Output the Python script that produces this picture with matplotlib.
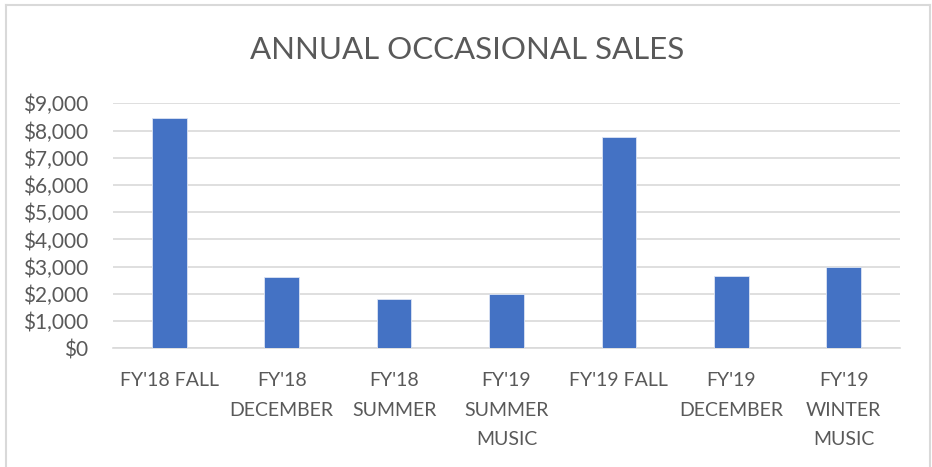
import matplotlib.pyplot as plt
from matplotlib.lines import Line2D
from matplotlib.ticker import FuncFormatter

# sales per occasion in $
categories = ["FY'18 FALL", "FY'18\nDECEMBER", "FY'18\nSUMMER", "FY'19\nSUMMER\nMUSIC",
              "FY'19 FALL", "FY'19\nDECEMBER", "FY'19\nWINTER\nMUSIC"]
sales = [8460, 2610, 1800, 1980, 7750, 2660, 2990]

text_col = '#595959'
grid_col = '#D9D9D9'
W, H = 932, 467

plt.rcParams['font.family'] = ['Lato', 'DejaVu Sans']

fig = plt.figure(figsize=(W / 100, H / 100), dpi=100)
ax = fig.add_axes([113 / W, 1 - 348.3 / H, (900 - 113) / W, (348.3 - 103.3) / H])

x_pos = range(len(categories))
ax.bar(x_pos, sales, 0.31, color='#4472C4', edgecolor='#DCE4F3', linewidth=0.6, zorder=3)

ax.set_xlim(-0.5, len(categories) - 0.5)
ax.set_ylim(0, 9000)
ax.set_yticks(range(0, 9001, 1000))
ax.yaxis.set_major_formatter(FuncFormatter(lambda v, p: '${:,.0f}'.format(v)))
ax.set_xticks(list(x_pos))
ax.set_xticklabels(categories, linespacing=1.9, va='top')

ax.yaxis.grid(True, color=grid_col, linewidth=1.2, zorder=0)
for s in ['top', 'right', 'left']:
    ax.spines[s].set_visible(False)
ax.spines['bottom'].set_color(grid_col)
ax.spines['bottom'].set_linewidth(1.2)
ax.tick_params(axis='both', length=0, labelcolor=text_col)
ax.tick_params(axis='y', pad=18, labelsize=15)
ax.tick_params(axis='x', pad=17, labelsize=14)

fig.text(467 / W, 1 - 50 / H, 'ANNUAL OCCASIONAL SALES', ha='center', va='center',
         fontsize=22.5, color=text_col)

# chart area border
bx0, bx1, by0 = 6 / W, 930 / W, 1 - 5 / H
for xs, ys in [([bx0, bx1], [by0, by0]), ([bx0, bx0], [0, by0]), ([bx1, bx1], [0, by0])]:
    fig.add_artist(Line2D(xs, ys, color=grid_col, linewidth=1.5))

fig.savefig('out.png', dpi=100)
